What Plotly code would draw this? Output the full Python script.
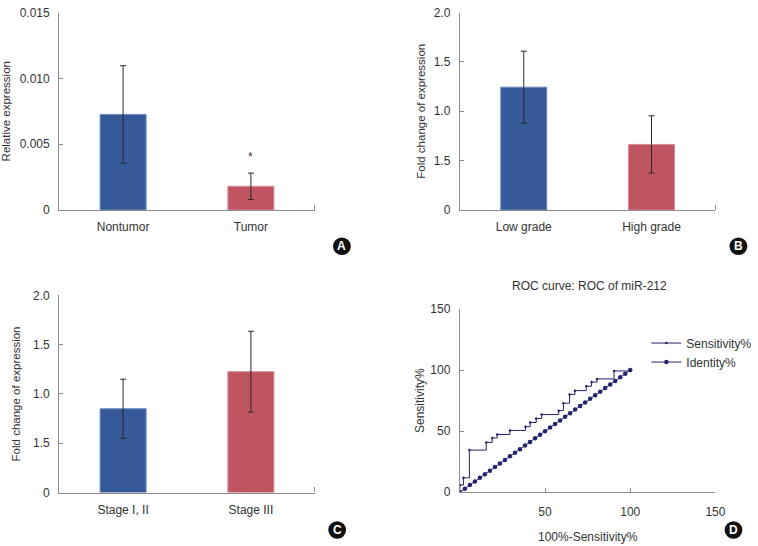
import plotly.graph_objects as go

W, H = 758, 546

# ---------------- data ----------------
a_cats = ["Nontumor", "Tumor"]
a_vals = [0.00726, 0.0018]
a_err = [0.0037, 0.001]

b_cats = ["Low grade", "High grade"]
b_vals = [1.244, 0.664]
b_err = [0.365, 0.29]

c_cats = ["Stage I, II", "Stage III"]
c_vals = [0.850, 1.226]
c_err = [0.30, 0.41]

fold_tickvals = [0, 0.5, 1.0, 1.5, 2.0]
fold_ticktext = ["0", "1.5", "1.0", "1.5", "2.0"]

roc_x = [0, 0, 2.1, 5.6, 15.5, 19, 21.9, 29.4, 38.5, 41.3, 44.8, 48.0, 58.0, 60.8, 64.4, 67.5, 74.2, 77.3, 80.5, 90.5, 100]
roc_y = [0, 5.9, 11.8, 34.5, 40.8, 44.5, 47.3, 50.6, 53.7, 57.1, 60.4, 63.6, 66.8, 72.9, 80.1, 83.2, 86.8, 90.2, 92.8, 99.3, 99.3]

id_x = [0, 2.94, 5.88, 8.82, 11.76, 14.71, 17.65, 20.59, 23.53, 26.47, 29.41, 32.35, 35.29,
        38.24, 41.18, 44.12, 47.06, 50, 52.94, 55.88, 58.82, 61.76, 64.71, 67.65, 70.59,
        73.53, 76.47, 79.41, 82.35, 85.29, 88.24, 91.18, 94.12, 97.06, 100]
id_y = [0, 2.94, 5.88, 8.82, 11.76, 14.71, 17.65, 20.59, 23.53, 26.47, 29.41, 32.35, 35.29,
        38.24, 41.18, 44.12, 47.06, 50, 52.94, 55.88, 58.82, 61.76, 64.71, 67.65, 70.59,
        73.53, 76.47, 79.41, 82.35, 85.29, 88.24, 91.18, 94.12, 97.06, 100]

# ---------------- style ----------------
BLUE = "#365a99"
RED = "#bf5561"
AXC = "#8c8c8c"
TXT = "#333333"
FONT = "Liberation Sans"
NAVY = "#23236e"


def px_x(x):
    return x / W


def px_y(y):
    return 1 - y / H


fig = go.Figure()

bar_colors = [BLUE, RED]
line_colors = ["#6d8cc2", "#d88a93"]

panels = [
    ("x", "y", a_vals, a_err),
    ("x2", "y2", b_vals, b_err),
    ("x3", "y3", c_vals, c_err),
]
for xa, ya, vals, err in panels:
    fig.add_trace(go.Bar(
        x=[0, 1], y=vals, xaxis=xa, yaxis=ya, width=0.36,
        marker=dict(color=bar_colors, line=dict(color=line_colors, width=1)),
        error_y=dict(type="data", array=err, color="#2a2a2a", thickness=1, width=3),
        showlegend=False,
    ))

fig.add_trace(go.Scatter(
    x=roc_x, y=roc_y, xaxis="x4", yaxis="y4", mode="lines+markers",
    line=dict(color=NAVY, width=1, shape="hv"),
    marker=dict(size=2.5, color=NAVY), name="Sensitivity%",
))
fig.add_trace(go.Scatter(
    x=id_x, y=id_y, xaxis="x4", yaxis="y4", mode="lines+markers",
    line=dict(color=NAVY, width=1),
    marker=dict(size=4.5, color=NAVY), name="Identity%",
))

tickfont = dict(family=FONT, size=12, color=TXT)
titlefont = dict(family=FONT, size=11.5, color=TXT)


def cat_xaxis(domain, cats, anchor):
    return dict(
        domain=domain, anchor=anchor, range=[-0.5, 1.5],
        tickmode="array", tickvals=[0, 1], ticktext=cats, ticks="",
        showline=True, linecolor=AXC, linewidth=1.2, showgrid=False, zeroline=False,
        tickfont=tickfont, ticklabelstandoff=6,
        minor=dict(tickmode="array", tickvals=[1.5], ticks="inside", ticklen=5,
                   tickcolor=AXC, tickwidth=1),
        fixedrange=True,
    )


def val_yaxis(domain, anchor, rng, tickvals, ticktext, title, standoff):
    return dict(
        domain=domain, anchor=anchor, range=rng,
        tickmode="array", tickvals=tickvals, ticktext=ticktext,
        ticks="inside", ticklen=4, tickcolor=AXC, tickwidth=1,
        showline=True, linecolor=AXC, linewidth=1.2, showgrid=False, zeroline=False,
        tickfont=tickfont, ticklabelstandoff=6,
        title=dict(text=title, font=titlefont, standoff=standoff),
    )


top_dom = [px_y(208.3), px_y(5.7)]
c_dom = [px_y(498.3), px_y(296)]
d_dom = [px_y(498), px_y(310)]
left_dom = [px_x(60), px_x(319)]
right_dom = [px_x(466), px_x(725)]

fig.update_layout(
    width=W, height=H,
    margin=dict(l=0, r=0, t=0, b=0),
    paper_bgcolor="white", plot_bgcolor="white",
    bargap=0.3,
    xaxis=cat_xaxis(left_dom, a_cats, "y"),
    yaxis=val_yaxis(top_dom, "x", [0, 0.015], [0, 0.005, 0.010, 0.015],
                    ["0", "0.005", "0.010", "0.015"], "Relative expression", 9),
    xaxis2=cat_xaxis(right_dom, b_cats, "y2"),
    yaxis2=val_yaxis(top_dom, "x2", [0, 2.0], fold_tickvals, fold_ticktext,
                     "Fold change of expression", 5),
    xaxis3=cat_xaxis(left_dom, c_cats, "y3"),
    yaxis3=val_yaxis(c_dom, "x3", [0, 2.0], fold_tickvals, fold_ticktext,
                     "Fold change of expression", 9),
    xaxis4=dict(
        domain=right_dom, anchor="y4", range=[0, 150],
        tickmode="array", tickvals=[50, 100, 150], ticktext=["50", "100", "150"],
        ticks="inside", ticklen=4, tickcolor=AXC, tickwidth=1,
        showline=True, linecolor=AXC, linewidth=1.2, showgrid=False, zeroline=False,
        tickfont=tickfont, ticklabelstandoff=8,
        title=dict(text="100%-Sensitivity%", font=tickfont, standoff=14),
    ),
    yaxis4=dict(
        domain=d_dom, anchor="x4", range=[0, 150],
        tickmode="array", tickvals=[0, 50, 100, 150], ticktext=["0", "50", "100", "150"],
        ticks="inside", ticklen=4, tickcolor=AXC, tickwidth=1,
        showline=True, linecolor=AXC, linewidth=1.2, showgrid=False, zeroline=False,
        tickfont=tickfont, ticklabelstandoff=6,
        title=dict(text="Sensitivity%", font=tickfont, standoff=3),
    ),
    legend=dict(
        x=px_x(655), y=px_y(330), xanchor="left", yanchor="top",
        bgcolor="rgba(0,0,0,0)", font=dict(family=FONT, size=12, color=TXT),
        tracegroupgap=0, itemwidth=30,
    ),
    showlegend=True,
)

# asterisk above tumor bar
fig.add_annotation(x=1, y=0.0040, xref="x", yref="y", text="*", showarrow=False,
                   xanchor="center", yanchor="middle",
                   font=dict(family=FONT, size=12, color=TXT))

# ROC title
fig.add_annotation(x=px_x(597), y=px_y(286), xref="paper", yref="paper",
                   text="ROC curve: ROC of miR-212", showarrow=False,
                   xanchor="center", yanchor="middle",
                   font=dict(family=FONT, size=12, color=TXT))

# panel badges
badges = [("A", 346.5, 245.5), ("B", 748.3, 245.5), ("C", 341.7, 536.7), ("D", 743.3, 536.7)]
r = 9
for lab, cx, cy in badges:
    fig.add_shape(type="circle", xref="paper", yref="paper",
                  x0=px_x(cx - r), x1=px_x(cx + r), y0=px_y(cy + r), y1=px_y(cy - r),
                  fillcolor="#111111", line=dict(color="#111111", width=0))
    fig.add_annotation(x=px_x(cx), y=px_y(cy), xref="paper", yref="paper", text="<b>%s</b>" % lab,
                       showarrow=False, xanchor="center", yanchor="middle",
                       font=dict(family=FONT, size=12, color="white"))

fig.write_html("out.html", config={"displayModeBar": False},
               post_script="document.body.style.margin='0';document.body.style.overflow='hidden';")
